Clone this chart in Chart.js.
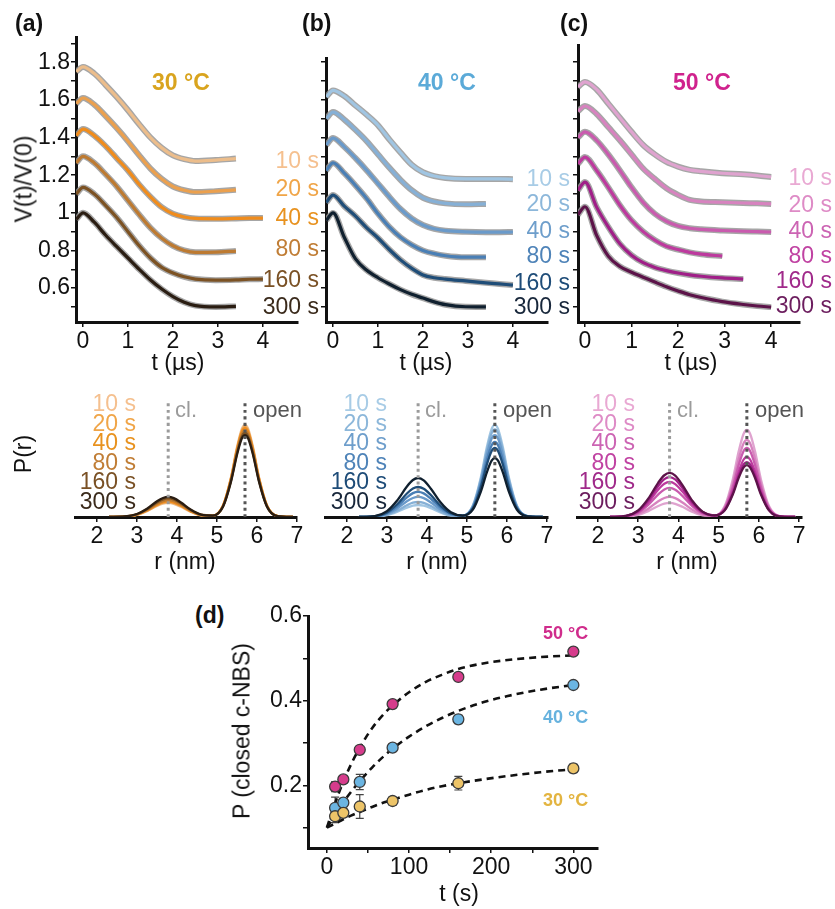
<!DOCTYPE html>
<html>
<head>
<meta charset="utf-8">
<script src="https://cdn.jsdelivr.net/npm/chart.js@4.4.1/dist/chart.umd.min.js"></script>
<style>
  body { margin: 0; background: #fff; }
  #fig { position: relative; width: 835px; height: 909px; overflow: hidden;
         font-family: "Liberation Sans", Arial, sans-serif; color: #111; }
  #fig canvas { position: absolute; }
  .t { position: absolute; white-space: nowrap; line-height: 1; }
</style>
</head>
<body>
<div id="fig"></div>
<script>
// ---- data ----
const ageLabels = ['10 s', '20 s', '40 s', '80 s', '160 s', '300 s'];

// dipolar time axis (µs); traces are offset vertically for display
const tGrid = [-0.15, 0, 0.25, 0.5, 0.75, 1, 1.25, 1.5, 1.75, 2, 2.25, 2.5, 2.95, 3.4, 3.7, 4];

const deer30 = [
  [1.75, 1.775, 1.74, 1.68, 1.615, 1.545, 1.47, 1.40, 1.345, 1.305, 1.285, 1.275, 1.28, 1.288],
  [1.58, 1.61, 1.575, 1.515, 1.45, 1.38, 1.305, 1.235, 1.18, 1.14, 1.12, 1.11, 1.115, 1.122],
  [1.41, 1.445, 1.41, 1.355, 1.29, 1.225, 1.15, 1.085, 1.03, 0.995, 0.978, 0.97, 0.968, 0.97, 0.972, 0.972],
  [1.265, 1.30, 1.265, 1.205, 1.14, 1.065, 0.99, 0.92, 0.865, 0.825, 0.80, 0.79, 0.791, 0.797],
  [1.10, 1.135, 1.10, 1.04, 0.975, 0.90, 0.825, 0.76, 0.71, 0.68, 0.66, 0.648, 0.642, 0.644, 0.647, 0.648],
  [0.965, 1.0, 0.95, 0.882, 0.82, 0.76, 0.70, 0.643, 0.595, 0.555, 0.525, 0.507, 0.50, 0.503]
];
const deer40 = [
  [1.615, 1.65, 1.62, 1.57, 1.52, 1.465, 1.39, 1.32, 1.255, 1.215, 1.195, 1.185, 1.18, 1.18, 1.18, 1.178],
  [1.50, 1.535, 1.495, 1.44, 1.38, 1.31, 1.24, 1.175, 1.12, 1.08, 1.06, 1.05, 1.045, 1.047],
  [1.36, 1.397, 1.35, 1.29, 1.225, 1.155, 1.085, 1.02, 0.97, 0.935, 0.915, 0.905, 0.899, 0.897, 0.897, 0.898],
  [1.225, 1.265, 1.21, 1.145, 1.075, 0.995, 0.925, 0.87, 0.83, 0.80, 0.783, 0.772, 0.764, 0.764],
  [1.055, 1.094, 1.035, 0.982, 0.92, 0.866, 0.805, 0.75, 0.705, 0.67, 0.655, 0.648, 0.638, 0.628, 0.622, 0.616],
  [0.96, 0.999, 0.87, 0.755, 0.695, 0.655, 0.622, 0.592, 0.567, 0.547, 0.527, 0.512, 0.501, 0.50]
];
const deer50 = [
  [1.668, 1.695, 1.655, 1.58, 1.505, 1.43, 1.36, 1.31, 1.27, 1.245, 1.228, 1.22, 1.21, 1.204, 1.198, 1.19],
  [1.54, 1.567, 1.525, 1.455, 1.385, 1.31, 1.235, 1.18, 1.13, 1.095, 1.068, 1.06, 1.056, 1.052, 1.05, 1.047],
  [1.40, 1.43, 1.385, 1.31, 1.225, 1.135, 1.055, 0.995, 0.955, 0.93, 0.918, 0.912, 0.906, 0.902, 0.90, 0.898],
  [1.26, 1.296, 1.225, 1.135, 1.04, 0.96, 0.90, 0.855, 0.822, 0.805, 0.79, 0.78, 0.77],
  [1.12, 1.163, 1.03, 0.925, 0.835, 0.775, 0.735, 0.71, 0.693, 0.68, 0.67, 0.663, 0.654, 0.648],
  [0.99, 1.032, 0.88, 0.77, 0.715, 0.684, 0.658, 0.632, 0.607, 0.585, 0.565, 0.55, 0.528, 0.513, 0.505, 0.499]
];

// distance distributions P(r), r in nm
const rGrid = [2.3, 2.7, 3.0, 3.25, 3.5, 3.65, 3.78, 3.92, 4.1, 4.35, 4.6, 4.9,
               5.15, 5.35, 5.5, 5.62, 5.7, 5.78, 5.9, 6.05, 6.25, 6.5, 6.9];
const closedR = 3.78;
const openR = 5.7;
const markerTop = 0.975;

const dist30 = [
  [0, 0.003, 0.018, 0.049, 0.092, 0.111, 0.117, 0.110, 0.085, 0.042, 0.014, 0.012, 0.097, 0.331, 0.583, 0.734, 0.767, 0.734, 0.583, 0.331, 0.097, 0.009, 0],
  [0, 0.003, 0.019, 0.052, 0.098, 0.119, 0.125, 0.118, 0.091, 0.045, 0.015, 0.012, 0.095, 0.324, 0.570, 0.718, 0.75, 0.718, 0.570, 0.324, 0.095, 0.009, 0],
  [0, 0.003, 0.020, 0.054, 0.102, 0.123, 0.13, 0.122, 0.094, 0.047, 0.016, 0.011, 0.093, 0.320, 0.562, 0.708, 0.74, 0.708, 0.562, 0.320, 0.093, 0.009, 0],
  [0, 0.004, 0.021, 0.058, 0.110, 0.133, 0.14, 0.132, 0.102, 0.051, 0.017, 0.011, 0.091, 0.311, 0.547, 0.689, 0.72, 0.689, 0.547, 0.311, 0.091, 0.009, 0],
  [0, 0.004, 0.023, 0.064, 0.121, 0.147, 0.155, 0.146, 0.113, 0.056, 0.019, 0.012, 0.088, 0.302, 0.532, 0.670, 0.70, 0.670, 0.532, 0.302, 0.088, 0.008, 0],
  [0, 0.004, 0.025, 0.069, 0.131, 0.158, 0.167, 0.157, 0.121, 0.060, 0.020, 0.012, 0.086, 0.295, 0.519, 0.654, 0.683, 0.654, 0.519, 0.295, 0.086, 0.008, 0]
];
const dist40 = [
  [0, 0.003, 0.015, 0.042, 0.078, 0.095, 0.10, 0.094, 0.073, 0.036, 0.012, 0.011, 0.097, 0.331, 0.583, 0.734, 0.767, 0.734, 0.583, 0.331, 0.097, 0.009, 0],
  [0, 0.003, 0.019, 0.052, 0.098, 0.119, 0.125, 0.118, 0.091, 0.045, 0.015, 0.011, 0.092, 0.315, 0.555, 0.699, 0.73, 0.699, 0.555, 0.315, 0.092, 0.009, 0],
  [0, 0.004, 0.025, 0.069, 0.131, 0.158, 0.167, 0.157, 0.121, 0.060, 0.020, 0.012, 0.086, 0.295, 0.519, 0.654, 0.683, 0.654, 0.519, 0.295, 0.086, 0.008, 0],
  [0, 0.005, 0.032, 0.087, 0.164, 0.199, 0.21, 0.197, 0.152, 0.076, 0.026, 0.012, 0.079, 0.270, 0.475, 0.598, 0.625, 0.598, 0.475, 0.270, 0.079, 0.008, 0],
  [0, 0.007, 0.038, 0.104, 0.196, 0.237, 0.25, 0.235, 0.182, 0.091, 0.031, 0.012, 0.072, 0.248, 0.437, 0.550, 0.575, 0.550, 0.437, 0.248, 0.072, 0.007, 0],
  [0, 0.008, 0.049, 0.135, 0.254, 0.308, 0.325, 0.306, 0.236, 0.118, 0.040, 0.012, 0.062, 0.212, 0.372, 0.469, 0.49, 0.469, 0.372, 0.212, 0.062, 0.006, 0]
];
const dist50 = [
  [0, 0.003, 0.018, 0.049, 0.092, 0.111, 0.117, 0.110, 0.085, 0.042, 0.014, 0.011, 0.091, 0.313, 0.551, 0.694, 0.725, 0.694, 0.551, 0.313, 0.091, 0.009, 0],
  [0, 0.004, 0.025, 0.069, 0.131, 0.158, 0.167, 0.157, 0.121, 0.060, 0.020, 0.011, 0.081, 0.277, 0.488, 0.614, 0.642, 0.614, 0.488, 0.277, 0.081, 0.008, 0],
  [0, 0.006, 0.036, 0.101, 0.189, 0.230, 0.242, 0.227, 0.176, 0.088, 0.030, 0.012, 0.072, 0.248, 0.437, 0.550, 0.575, 0.550, 0.437, 0.248, 0.072, 0.007, 0],
  [0, 0.008, 0.044, 0.121, 0.229, 0.277, 0.292, 0.274, 0.212, 0.106, 0.036, 0.012, 0.063, 0.216, 0.380, 0.479, 0.5, 0.479, 0.380, 0.216, 0.063, 0.006, 0],
  [0, 0.009, 0.050, 0.139, 0.261, 0.316, 0.333, 0.313, 0.242, 0.121, 0.041, 0.012, 0.058, 0.198, 0.348, 0.438, 0.458, 0.438, 0.348, 0.198, 0.058, 0.005, 0],
  [0, 0.010, 0.055, 0.153, 0.287, 0.348, 0.367, 0.345, 0.266, 0.133, 0.045, 0.013, 0.055, 0.187, 0.329, 0.414, 0.433, 0.414, 0.329, 0.187, 0.055, 0.005, 0]
];

// closed c-NBS fraction vs incubation time (s)
const incTimes = [10, 20, 40, 80, 160, 300];
const closed30 = [0.127, 0.135, 0.150, 0.163, 0.205, 0.240];
const err30 = [0.015, 0.010, 0.028, 0.010, 0.016, 0.010];
const closed40 = [0.147, 0.159, 0.208, 0.289, 0.356, 0.437];
const err40 = [0.025, 0.010, 0.018, 0.006, 0.010, 0.006];
const closed50 = [0.197, 0.214, 0.284, 0.392, 0.456, 0.516];
const err50 = [0.012, 0.008, 0.006, 0.005, 0.008, 0.006];

const fitTimes = [0, 10, 20, 30, 40, 55, 70, 85, 100, 120, 140, 160, 190, 220, 260, 300];
const fit30 = [0.10, 0.11, 0.12, 0.129, 0.137, 0.149, 0.16, 0.169, 0.178, 0.189, 0.198, 0.205, 0.214, 0.222, 0.231, 0.238];
const fit40 = [0.10, 0.131, 0.16, 0.186, 0.21, 0.242, 0.27, 0.294, 0.315, 0.339, 0.359, 0.376, 0.396, 0.411, 0.426, 0.437];
const fit50 = [0.10, 0.158, 0.209, 0.252, 0.289, 0.335, 0.37, 0.397, 0.42, 0.444, 0.461, 0.475, 0.488, 0.496, 0.503, 0.507];

// ---- colours ----
const INK = '#111';
const fitColors30 = ['#ecbd8b', '#eba04e', '#f08c1c', '#bd7a31', '#7c5223', '#2a1d12'];
const fitColors40 = ['#a0c5e2', '#86b0d6', '#6a9aca', '#4a7fb5', '#1f4d78', '#10202f'];
const fitColors50 = ['#dfa3cf', '#d783bf', '#c95bae', '#bd3a9e', '#a01f88', '#5c1349'];
const textColors30 = ['#f5c08f', '#f0a548', '#e8921f', '#c07d35', '#7a5125', '#3a2a1b'];
const textColors40 = ['#a8cce6', '#8cb7da', '#6e9ecb', '#4e83b8', '#1e4c78', '#17263a'];
const textColors50 = ['#e9a9d3', '#de8bc6', '#cc64b3', '#c042a2', '#a02a8a', '#6c1d5e'];

Chart.defaults.font.family = '"Liberation Sans", Arial, sans-serif';
Chart.defaults.color = INK;

const fig = document.getElementById('fig');

// canvas sized so that the chart area lands on the given box
function place(area, pad, wy, hx) {
  const c = document.createElement('canvas');
  c.width = area.r - area.l + wy + pad.left + pad.right;
  c.height = area.b - area.t + pad.top + hx;
  c.style.left = (area.l - wy - pad.left) + 'px';
  c.style.top = (area.t - pad.top) + 'px';
  fig.appendChild(c);
  return c;
}

function axis(min, max, step, labelFn, size) {
  return {
    type: 'linear', min, max,
    border: { display: true, color: INK, width: 3 },
    grid: { drawOnChartArea: false, drawTicks: true, tickLength: 5, color: INK, lineWidth: 1.5 },
    ticks: { stepSize: step, includeBounds: false, autoSkip: false, maxRotation: 0, padding: 1,
             color: INK, font: { size: 23 }, callback: labelFn },
    afterFit: s => { if (s.isHorizontal()) s.height = size; else s.width = size; }
  };
}

const baseOptions = pad => ({
  responsive: false, animation: false,
  layout: { padding: pad },
  elements: { point: { radius: 0 }, line: { cubicInterpolationMode: 'monotone' } },
  plugins: { legend: { display: false }, tooltip: { enabled: false } }
});

const intLabel = v => (Math.abs(v - Math.round(v)) < 1e-6 ? String(Math.round(v)) : '');
const deerYLabel = v => {
  const k = Math.round(v * 10);
  if (k % 2 !== 0 || k < 6) return '';
  return k === 10 ? '1' : (k / 10).toFixed(1);
};

function deerPanel(area, traces, colors, xMin, xMax, yMax, yLabel) {
  const pad = { left: 0, top: 16, right: 12, bottom: 0 };
  const canvas = place(area, pad, 60, 40);
  const datasets = [];
  traces.forEach((vals, i) => {
    const pts = vals.map((v, k) => ({ x: tGrid[k], y: v }));
    datasets.push({ data: pts, borderColor: 'rgba(150,150,150,0.85)', borderWidth: 6, order: 2 });
    datasets.push({ data: pts, borderColor: colors[i], borderWidth: 3.2, order: 1 });
  });
  new Chart(canvas, {
    type: 'line',
    data: { datasets },
    options: Object.assign(baseOptions(pad), {
      scales: { x: axis(xMin, xMax, 1, intLabel, 40), y: axis(0.42, yMax, 0.1, yLabel, 60) }
    })
  });
}

function distPanel(area, xMin, xMax, curves, colors) {
  const pad = { left: 12, top: 5, right: 12, bottom: 0 };
  const canvas = place(area, pad, 0, 45);
  const datasets = curves.map((vals, i) => ({
    data: vals.map((v, k) => ({ x: rGrid[k], y: v })),
    borderColor: colors[i], borderWidth: 2.3, order: 10 - i
  }));
  datasets.push({ data: [{ x: closedR, y: 0 }, { x: closedR, y: markerTop }],
                  borderColor: '#9b9b9b', borderWidth: 3, borderDash: [3, 3.5], order: 0 });
  datasets.push({ data: [{ x: openR, y: 0 }, { x: openR, y: markerTop }],
                  borderColor: '#555', borderWidth: 3, borderDash: [3, 3.5], order: 0 });
  new Chart(canvas, {
    type: 'line',
    data: { datasets },
    options: Object.assign(baseOptions(pad), {
      scales: { x: axis(xMin, xMax, 1, intLabel, 45), y: { display: false, min: 0, max: 1 } }
    })
  });
}

deerPanel({ l: 76, t: 37, r: 298, b: 322 }, deer30, fitColors30, -0.156, 4.78, 1.934, deerYLabel);
deerPanel({ l: 326, t: 58, r: 548, b: 322 }, deer40, fitColors40, -0.156, 4.78, 1.822, () => '');
deerPanel({ l: 578, t: 45, r: 800, b: 322 }, deer50, fitColors50, -0.15, 4.62, 1.891, () => '');

distPanel({ l: 75, t: 397, r: 297, b: 517 }, 1.45, 7.0, dist30, fitColors30);
distPanel({ l: 325, t: 397, r: 548, b: 517 }, 1.45, 7.03, dist40, fitColors40);
distPanel({ l: 577, t: 397, r: 802, b: 517 }, 1.48, 7.07, dist50, fitColors50);

// error bars drawn under the markers
const errorBars = {
  id: 'errorBars',
  beforeDatasetsDraw(chart) {
    const { ctx, scales: { x, y } } = chart;
    chart.data.datasets.forEach(ds => {
      if (!ds.errors) return;
      ctx.save();
      ctx.strokeStyle = '#444';
      ctx.lineWidth = 1.2;
      ds.data.forEach((p, i) => {
        const px = x.getPixelForValue(p.x);
        const hi = y.getPixelForValue(p.y + ds.errors[i]);
        const lo = y.getPixelForValue(p.y - ds.errors[i]);
        ctx.beginPath();
        ctx.moveTo(px, hi); ctx.lineTo(px, lo);
        ctx.moveTo(px - 4, hi); ctx.lineTo(px + 4, hi);
        ctx.moveTo(px - 4, lo); ctx.lineTo(px + 4, lo);
        ctx.stroke();
      });
      ctx.restore();
    });
  }
};

function kinetics() {
  const pad = { left: 0, top: 16, right: 12, bottom: 0 };
  const canvas = place({ l: 308, t: 616, r: 598, b: 848 }, pad, 78, 50);
  const fit = vals => ({
    data: vals.map((v, k) => ({ x: fitTimes[k], y: v })),
    borderColor: INK, borderWidth: 2.6, borderDash: [7, 5], order: 3
  });
  const pts = (vals, errs, color) => ({
    data: vals.map((v, k) => ({ x: incTimes[k], y: v })), errors: errs,
    showLine: false, pointRadius: 5.5, pointBackgroundColor: color,
    pointBorderColor: '#3b3b3b', pointBorderWidth: 1.3, order: 1
  });
  new Chart(canvas, {
    type: 'line',
    data: { datasets: [
      fit(fit30), fit(fit40), fit(fit50),
      pts(closed30, err30, '#edc468'), pts(closed40, err40, '#6bb5e2'), pts(closed50, err50, '#d63c8c')
    ] },
    options: Object.assign(baseOptions(pad), {
      scales: {
        x: axis(-23, 330, 50, v => (v % 100 === 0 ? String(v) : ''), 50),
        y: axis(0.052, 0.6, 0.1, v => (Math.round(v * 10) % 2 === 0 ? v.toFixed(1) : ''), 78)
      }
    }),
    plugins: [errorBars]
  });
}
kinetics();

// ---- text ----
function txt(s, x, y, o = {}) {
  const d = document.createElement('div');
  d.className = 't';
  d.textContent = s;
  d.style.left = x + 'px';
  d.style.top = y + 'px';
  d.style.fontSize = (o.size || 23) + 'px';
  if (o.color) d.style.color = o.color;
  if (o.bold) d.style.fontWeight = 'bold';
  const ax = o.align === 'right' ? '-100%' : o.align === 'left' ? '0' : '-50%';
  d.style.transform = 'translate(' + ax + ', -50%)' + (o.rot ? ' rotate(-90deg)' : '');
  fig.appendChild(d);
}

txt('(a)', 15, 23, { bold: true, align: 'left' });
txt('(b)', 302, 23, { bold: true, align: 'left' });
txt('(c)', 560, 23, { bold: true, align: 'left' });
txt('(d)', 195, 615, { bold: true, align: 'left' });

txt('30 °C', 152, 82, { bold: true, align: 'left', color: '#d9a41e' });
txt('40 °C', 418, 82, { bold: true, align: 'left', color: '#5baad8' });
txt('50 °C', 673, 82, { bold: true, align: 'left', color: '#d0228d' });

txt('V(t)/V(0)', 24, 179, { rot: true });
txt('t (µs)', 178, 362);
txt('t (µs)', 426, 362);
txt('t (µs)', 691, 362);

const traceY30 = [160, 188, 217, 248, 279, 306];
const traceY40 = [178, 203, 230, 255, 282, 306];
const traceY50 = [177, 204, 230, 255, 280, 305];
ageLabels.forEach((s, i) => {
  txt(s, 319, traceY30[i], { align: 'right', color: textColors30[i] });
  txt(s, 570, traceY40[i], { align: 'right', color: textColors40[i] });
  txt(s, 832, traceY50[i], { align: 'right', color: textColors50[i] });
  const ly = 403 + i * 19.5;
  txt(s, 136, ly, { align: 'right', color: textColors30[i] });
  txt(s, 387, ly, { align: 'right', color: textColors40[i] });
  txt(s, 635, ly, { align: 'right', color: textColors50[i] });
});

txt('P(r)', 23, 454, { rot: true });
[[175, 253], [425, 503], [677, 755]].forEach(([c, o]) => {
  txt('cl.', c, 410, { align: 'left', size: 22, color: '#9b9b9b' });
  txt('open', o, 410, { align: 'left', size: 22, color: '#555' });
});
txt('r (nm)', 185, 561);
txt('r (nm)', 437, 561);
txt('r (nm)', 687, 561);

txt('P (closed c-NBS)', 242, 731, { rot: true });
txt('t (s)', 459, 893);
txt('50 °C', 543, 633, { bold: true, size: 18, align: 'left', color: '#d02c8c' });
txt('40 °C', 543, 717, { bold: true, size: 18, align: 'left', color: '#66b2de' });
txt('30 °C', 543, 800, { bold: true, size: 18, align: 'left', color: '#e3b440' });
</script>
</body>
</html>
